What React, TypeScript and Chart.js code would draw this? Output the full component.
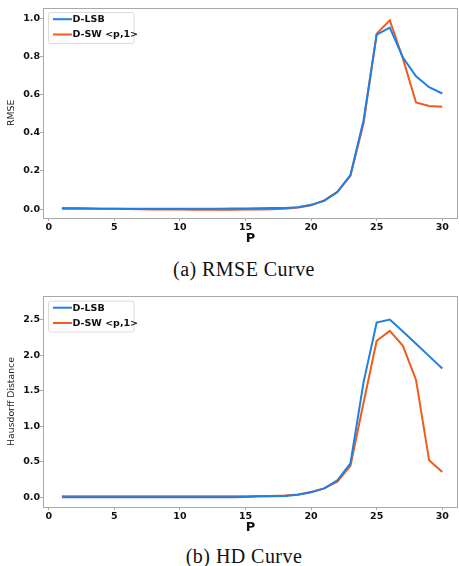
import React, { useEffect, useRef } from "react";
import { Chart, registerables } from "chart.js";

Chart.register(...registerables);

const P = [1, 2, 3, 4, 5, 6, 7, 8, 9, 10, 11, 12, 13, 14, 15, 16, 17, 18, 19, 20, 21, 22, 23, 24, 25, 26, 27, 28, 29, 30];
const seriesNames = ["D-LSB", "D-SW <p,1>"];

const rmseLSB = [0.002, 0.002, 0.002, 0.002, 0.002, 0.002, 0.002, 0.002, 0.002, 0.002, 0.002, 0.002, 0.002, 0.003, 0.003, 0.004, 0.005, 0.006, 0.01, 0.022, 0.043, 0.089, 0.178, 0.466, 0.915, 0.951, 0.795, 0.696, 0.639, 0.606];
const rmseSW = [0.006, 0.005, 0.004, 0.002, 0.001, 0.0, -0.001, -0.002, -0.003, -0.003, -0.004, -0.004, -0.004, -0.004, -0.003, -0.002, -0.001, 0.002, 0.008, 0.02, 0.045, 0.09, 0.175, 0.45, 0.92, 0.99, 0.789, 0.559, 0.541, 0.536];

const hdLSB = [0.0, 0.0, 0.0, 0.0, 0.0, 0.0, 0.0, 0.0, 0.0, 0.0, 0.0, 0.0, 0.0, 0.0, 0.005, 0.01, 0.015, 0.02, 0.035, 0.07, 0.125, 0.24, 0.477, 1.62, 2.457, 2.5, 2.33, 2.16, 1.985, 1.81];
const hdSW = [0.015, 0.015, 0.015, 0.015, 0.015, 0.015, 0.015, 0.015, 0.015, 0.015, 0.015, 0.015, 0.015, 0.015, 0.015, 0.017, 0.02, 0.025, 0.04, 0.075, 0.125, 0.22, 0.444, 1.33, 2.2, 2.34, 2.13, 1.65, 0.52, 0.355];

const xTicks = [0, 5, 10, 15, 20, 25, 30];
const rmseTicks = [0.0, 0.2, 0.4, 0.6, 0.8, 1.0];
const hdTicks = [0.0, 0.5, 1.0, 1.5, 2.0, 2.5];

const BLUE = "#1f7fe6";
const ORANGE = "#f05a1c";
const FRAME = "#a8a8a8";

const framePlugin = {
  id: "frameAndLegend",
  afterDraw(chart: any) {
    const { ctx, chartArea } = chart;
    ctx.save();
    ctx.strokeStyle = FRAME;
    ctx.lineWidth = 1;
    const l = Math.round(chartArea.left) + 0.5;
    const t = Math.round(chartArea.top) + 0.5;
    const r = Math.round(chartArea.right) - 0.5;
    const b = Math.round(chartArea.bottom) + 0.5;
    ctx.strokeRect(l, t, r - l, b - t);

    // legend
    const bx = chartArea.left + 5.5;
    const by = chartArea.top + 5;
    const bw = 85.5;
    const bh = 31;
    ctx.beginPath();
    const rad = 2;
    ctx.moveTo(bx + rad, by);
    ctx.lineTo(bx + bw - rad, by);
    ctx.quadraticCurveTo(bx + bw, by, bx + bw, by + rad);
    ctx.lineTo(bx + bw, by + bh - rad);
    ctx.quadraticCurveTo(bx + bw, by + bh, bx + bw - rad, by + bh);
    ctx.lineTo(bx + rad, by + bh);
    ctx.quadraticCurveTo(bx, by + bh, bx, by + bh - rad);
    ctx.lineTo(bx, by + rad);
    ctx.quadraticCurveTo(bx, by, bx + rad, by);
    ctx.closePath();
    ctx.fillStyle = "rgba(255,255,255,0.85)";
    ctx.fill();
    ctx.strokeStyle = "#dcdcdc";
    ctx.stroke();

    const rows = [chartArea.top + 11.7, chartArea.top + 27];
    chart.data.datasets.forEach((ds: any, i: number) => {
      const y = rows[i];
      ctx.beginPath();
      ctx.strokeStyle = ds.borderColor;
      ctx.lineWidth = 2;
      ctx.moveTo(chartArea.left + 10, y);
      ctx.lineTo(chartArea.left + 29, y);
      ctx.stroke();
      ctx.fillStyle = "#111";
      ctx.font = "bold 9.5px 'DejaVu Sans'";
      ctx.textBaseline = "middle";
      ctx.textAlign = "left";
      ctx.fillText(ds.label, chartArea.left + 29.5, y + 0.5);
    });
    ctx.restore();
  },
};

type Props = {
  a: number[];
  b: number[];
  yTitle: string;
  yMin: number;
  yMax: number;
  yTicks: number[];
  padTop: number;
  top: number;
};

function LineChart({ a, b, yTitle, yMin, yMax, yTicks, padTop, top }: Props) {
  const ref = useRef<HTMLCanvasElement | null>(null);
  useEffect(() => {
    if (!ref.current) return;
    const tickFont = { family: "'DejaVu Sans'", size: 9.5, weight: "bold" as const };
    const chart = new Chart(ref.current, {
      type: "line",
      data: {
        datasets: [
          {
            label: seriesNames[0],
            data: P.map((p, i) => ({ x: p, y: a[i] })),
            borderColor: BLUE,
            backgroundColor: BLUE,
            borderWidth: 2,
            pointRadius: 0,
            tension: 0,
          },
          {
            label: seriesNames[1],
            data: P.map((p, i) => ({ x: p, y: b[i] })),
            borderColor: ORANGE,
            backgroundColor: ORANGE,
            borderWidth: 2,
            pointRadius: 0,
            tension: 0,
          },
        ],
      },
      options: {
        animation: false,
        responsive: false,
        devicePixelRatio: 1,
        layout: { padding: { top: padTop, right: 1, left: 0, bottom: 0 } },
        plugins: { legend: { display: false }, tooltip: { enabled: false }, title: { display: false } },
        scales: {
          x: {
            type: "linear",
            min: -0.44,
            max: 31.2,
            afterBuildTicks: (s: any) => {
              s.ticks = xTicks.map((v) => ({ value: v }));
            },
            afterFit: (s: any) => {
              s.height = 32;
            },
            grid: { display: true, drawOnChartArea: false, drawTicks: true, tickLength: 3, tickColor: FRAME },
            border: { display: false },
            ticks: {
              font: tickFont,
              color: "#111",
              padding: 1,
              maxRotation: 0,
              autoSkip: false,
              callback: (v: any) => String(v),
            },
            title: {
              display: true,
              text: "P",
              font: { family: "'DejaVu Sans'", size: 13, weight: "bold" },
              color: "#111",
              padding: { top: 0, bottom: 3.2 },
            },
          },
          y: {
            type: "linear",
            min: yMin,
            max: yMax,
            afterBuildTicks: (s: any) => {
              s.ticks = yTicks.map((v) => ({ value: v }));
            },
            afterFit: (s: any) => {
              s.width = 43;
            },
            grid: { display: true, drawOnChartArea: false, drawTicks: true, tickLength: 3, tickColor: FRAME },
            border: { display: false },
            ticks: {
              font: tickFont,
              color: "#111",
              padding: 0,
              autoSkip: false,
              callback: (v: any) => Number(v).toFixed(1),
            },
            title: {
              display: true,
              text: yTitle,
              font: { family: "'DejaVu Sans'", size: 9.3 },
              color: "#222",
              padding: { top: 6, bottom: 0 },
            },
          },
        },
      },
      plugins: [framePlugin],
    });
    return () => chart.destroy();
  }, [a, b, yTitle, yMin, yMax, yTicks, padTop]);
  return (
    <canvas
      ref={ref}
      width={459}
      height={250}
      style={{ position: "absolute", left: 0, top, width: 459, height: 250 }}
    />
  );
}

const captionStyle: React.CSSProperties = {
  position: "absolute",
  left: 244,
  transform: "translateX(-50%)",
  whiteSpace: "nowrap",
  fontFamily: "'Liberation Serif', 'Times New Roman', serif",
  fontSize: 20,
  lineHeight: "20px",
  letterSpacing: "0.45px",
  color: "#111",
};

export default function App() {
  return (
    <div style={{ position: "absolute", left: 0, top: 0, width: 459, height: 566, background: "#fff", overflow: "hidden" }}>
      <LineChart a={rmseLSB} b={rmseSW} yTitle="RMSE" yMin={-0.047} yMax={1.057} yTicks={rmseTicks} padTop={7.5} top={0} />
      <div style={{ ...captionStyle, top: 259 }}>(a) RMSE Curve</div>
      <LineChart a={hdLSB} b={hdSW} yTitle="Hausdorff Distance" yMin={-0.136} yMax={2.83} yTicks={hdTicks} padTop={7} top={289} />
      <div style={{ ...captionStyle, top: 546 }}>(b) HD Curve</div>
    </div>
  );
}
